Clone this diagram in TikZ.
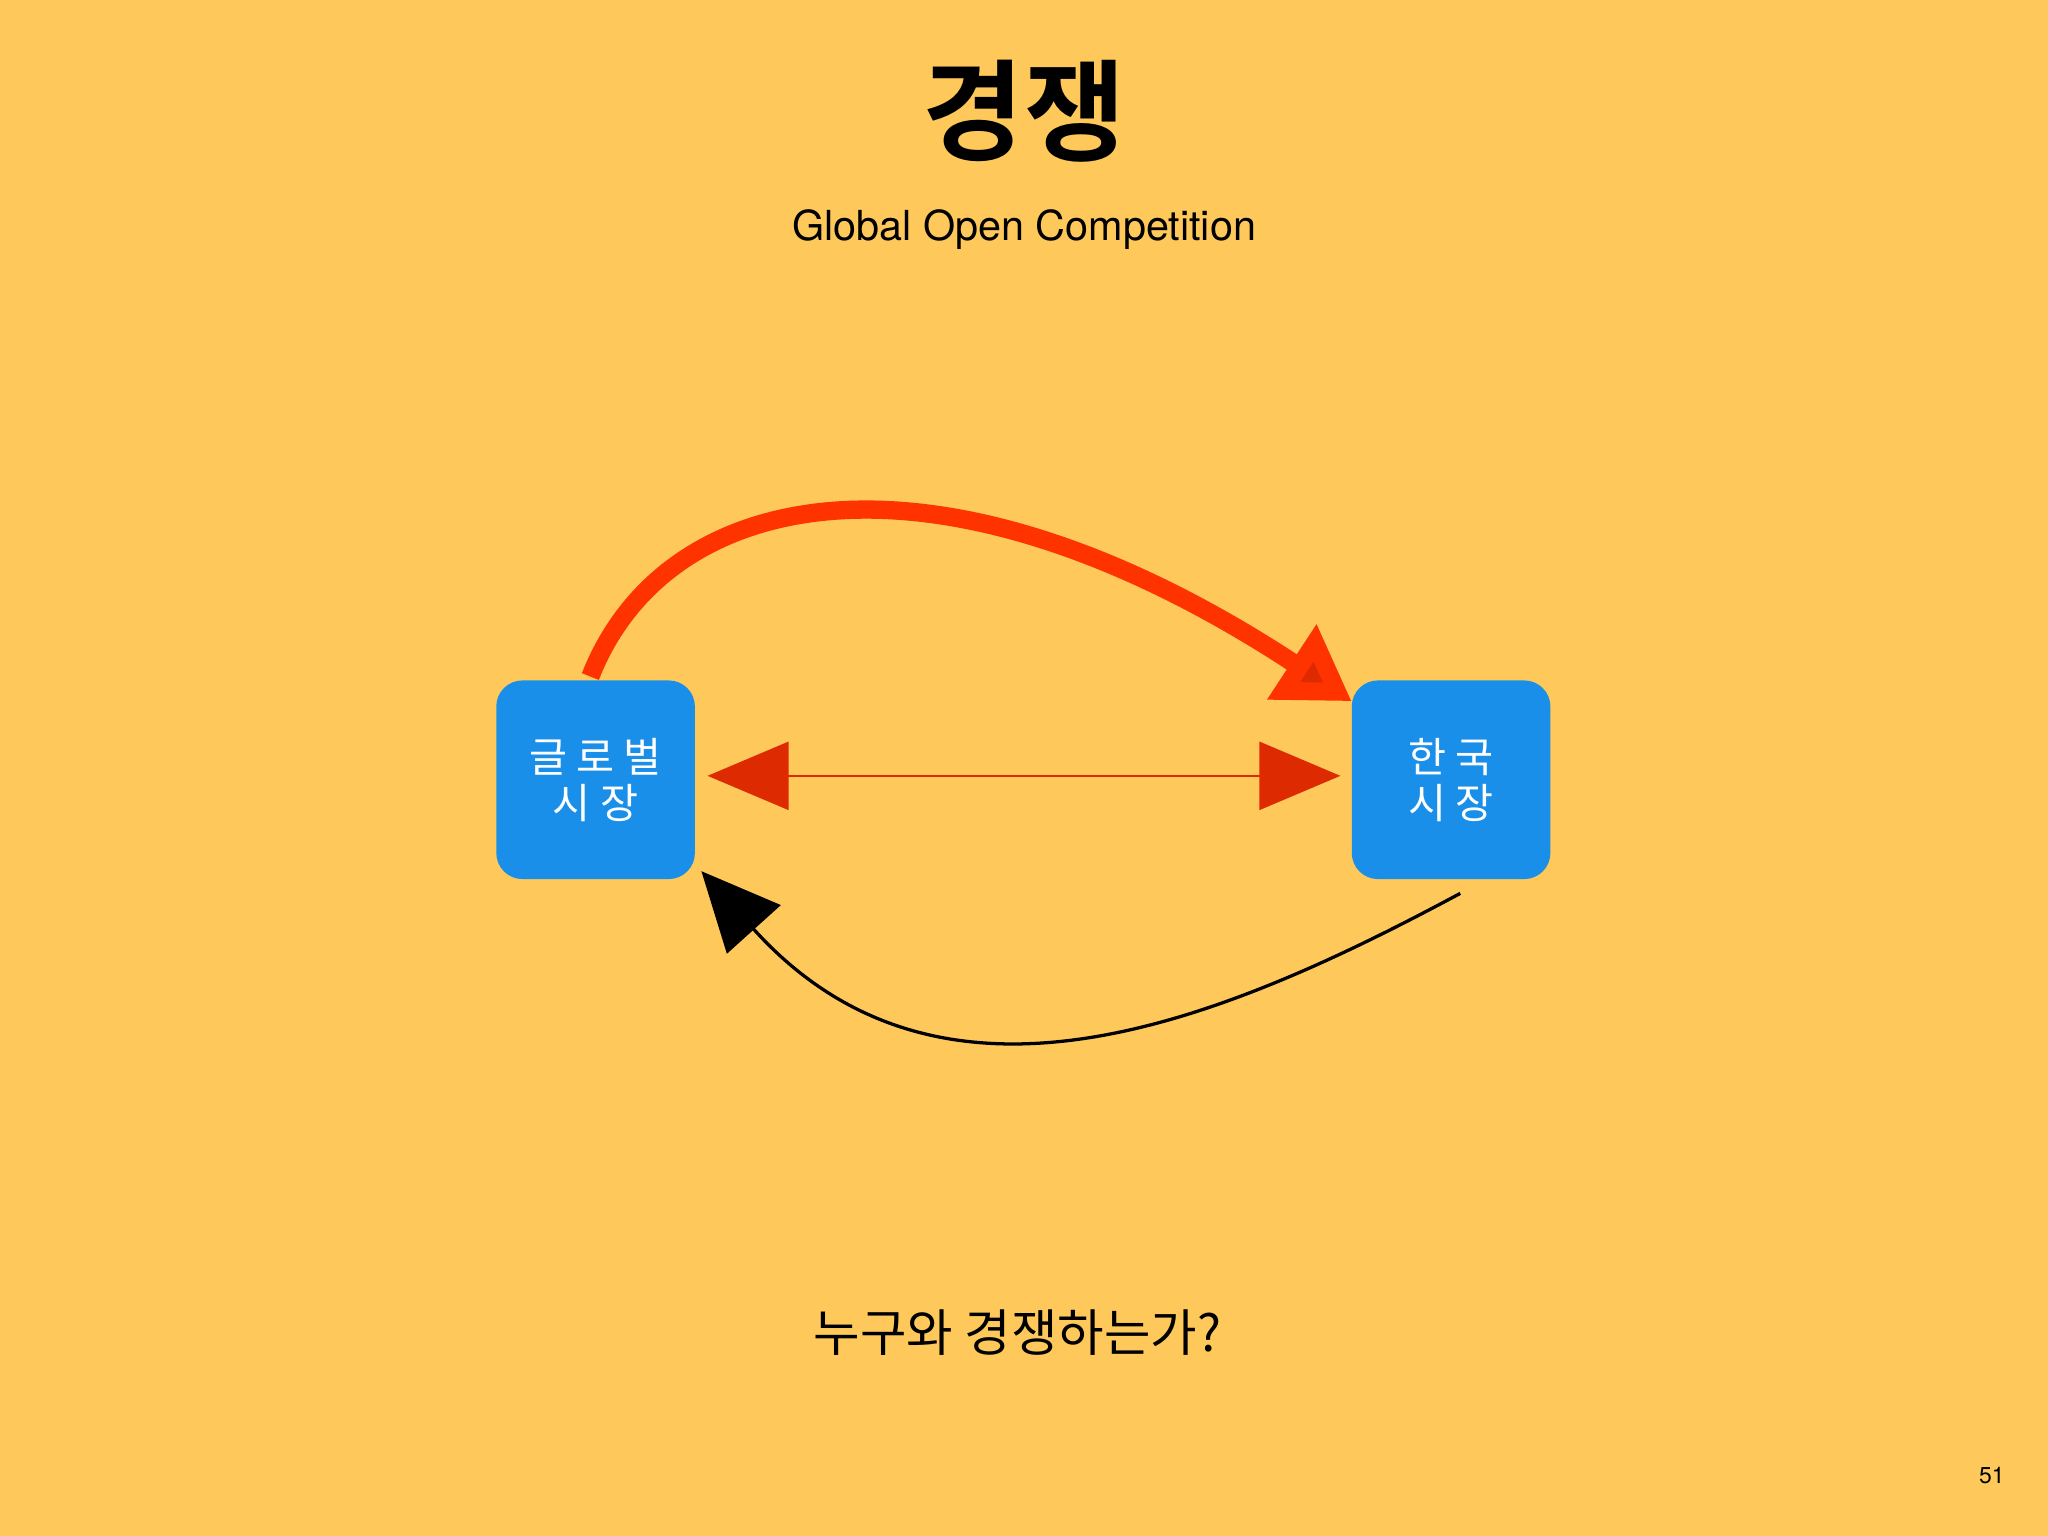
\documentclass[tikz,border=0pt]{standalone}
\usepackage{fontspec}
\setmainfont{TeX Gyre Heros}
\newfontfamily\kr{Noto Sans CJK KR}
\newfontfamily\krb{Noto Sans CJK KR Bold}
\usetikzlibrary{arrows.meta,calc}
\definecolor{bg}{HTML}{FEC95A}
\definecolor{boxb}{HTML}{1A8FEA}
\definecolor{redA}{HTML}{DD2A00}
\definecolor{redB}{HTML}{FF3300}
\begin{document}
\begin{tikzpicture}[x=0.01cm,y=-0.01cm,
  mkt/.style={fill=boxb,rounded corners=0.2cm,minimum width=1.52cm,minimum height=1.52cm,text=white,align=center,font=\kr\fontsize{9}{12}\selectfont,inner sep=0pt}]
\fill[bg] (0,0) rectangle (1568,1176);
\node (title) at (784,85) {\krb\fontsize{24}{28}\selectfont 경쟁};
\node (sub) at (784,176) {\fontsize{9}{11}\selectfont Global Open Competition};
\node[mkt] (g) at (456,597) {글 로 벌\\[-2pt]시 장};
\node[mkt] (k) at (1111,597) {한 국\\[-2pt]시 장};
\coordinate (a1) at ($(g.east)+(9,-3)$);
\coordinate (a2) at ($(k.west)+(-8,-3)$);
\draw[redA,line width=0.02cm,{Triangle[length=0.62cm,width=0.52cm]}-{Triangle[length=0.62cm,width=0.52cm]}] (a1) -- (a2);
\coordinate (rs) at (452,518);
\coordinate (re) at (1035,537);
\draw[redB,line width=0.14cm,-{Triangle[length=0.55cm,width=0.65cm,fill=redA]}] (rs) .. controls (510,370) and (720,330) .. (re);
\coordinate (bs) at (1118,684);
\coordinate (be) at (537,667);
\draw[black,line width=0.025cm,-{Triangle[length=0.6cm,width=0.55cm]}] (bs) .. controls (930,785) and (720,870) .. (be);
\node (q) at (779,1020) {\kr\fontsize{11}{13}\selectfont 누구와 경쟁하는가?};
\node (pg) at (1525,1130) {\fontsize{5}{6}\selectfont 51};
\end{tikzpicture}
\end{document}
